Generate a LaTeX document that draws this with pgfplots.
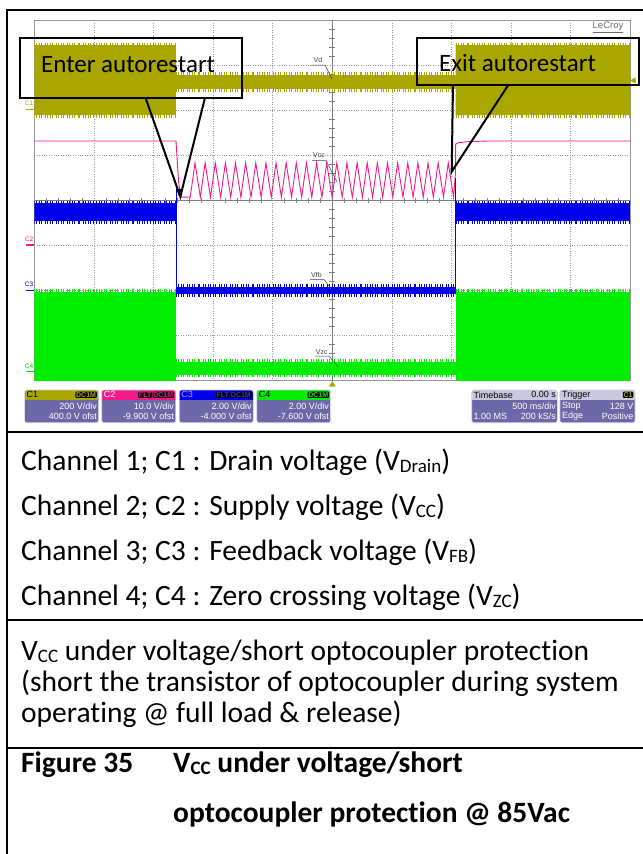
\documentclass[border=0pt]{standalone}
\usepackage{pgfplots}
\pgfplotsset{compat=1.18}
\usepackage{fontspec}
\setmainfont{Carlito}[Ligatures=NoCommon]
\newfontfamily\arial{Liberation Sans}
\definecolor{cone}{RGB}{170,166,0}
\definecolor{ctwo}{RGB}{245,25,135}
\definecolor{cthree}{RGB}{0,0,235}
\definecolor{cfour}{RGB}{0,238,0}
\definecolor{panel}{RGB}{108,104,168}
\definecolor{panelhead}{RGB}{200,200,222}
\definecolor{gridc}{RGB}{150,150,150}
\newcommand{\sub}[1]{\raisebox{-0.1em}{\fontsize{19bp}{19bp}\selectfont #1}}
\newcommand{\body}{\fontsize{29.5bp}{32bp}\selectfont}
\newcommand{\scf}{\arial\fontsize{9bp}{9bp}\selectfont}
\pgfplotsset{fringe/.style={line width=2.6bp, dash pattern=on 0.5bp off 1.3bp on 0.8bp off 2.4bp on 0.4bp off 1.7bp on 0.6bp off 3.1bp}}
\begin{document}
\begin{tikzpicture}
\useasboundingbox (0,0) rectangle (643bp,-854bp);
\fill[white] (0,0) rectangle (643bp,-854bp);
\begin{axis}[
  at={(34.4bp,-380.7bp)}, anchor=south west,
  scale only axis, width=595.9bp, height=360.7bp,
  xmin=0, xmax=10, ymin=0, ymax=8,
  xtick={0,...,10}, ytick={0,...,8},
  xticklabels={}, yticklabels={},
  major tick length=0pt,
  grid=major, grid style={gridc, dash pattern=on 0.6bp off 1.8bp, line width=0.6bp},
  axis line style={gridc, line width=0.7bp},
  clip=true,
]
\draw[gray, line width=0.6bp] (axis cs:5,0) -- (axis cs:5,8);
\draw[gray, line width=0.6bp] (axis cs:0,4) -- (axis cs:10,4);
\pgfplotsinvokeforeach{0.2,0.4,0.6,0.8,1.2,1.4,1.6,1.8,2.2,2.4,2.6,2.8,3.2,3.4,3.6,3.8,4.2,4.4,4.6,4.8,5.2,5.4,5.6,5.8,6.2,6.4,6.6,6.8,7.2,7.4,7.6,7.8}{
  \draw[gray, line width=0.6bp] (axis cs:4.95,#1) -- (axis cs:5.05,#1);
}
\pgfplotsinvokeforeach{0.2,0.4,0.6,0.8,1.2,1.4,1.6,1.8,2.2,2.4,2.6,2.8,3.2,3.4,3.6,3.8,4.2,4.4,4.6,4.8,5.2,5.4,5.6,5.8,6.2,6.4,6.6,6.8,7.2,7.4,7.6,7.8,8.2,8.4,8.6,8.8,9.2,9.4,9.6,9.8}{
  \draw[gray, line width=0.6bp] (axis cs:#1,3.94) -- (axis cs:#1,4.06);
}
% C1 drain voltage band
\addplot[draw=none, fill=cone] coordinates {(0,5.89) (0,7.445) (2.376,7.445) (2.376,6.78) (7.07,6.78) (7.07,7.445) (10,7.445) (10,5.89) (7.07,5.89) (7.07,6.47) (2.376,6.47) (2.376,5.89)};
\addplot[cone, fringe] coordinates {(0,7.472) (2.376,7.472)};
\addplot[cone, fringe] coordinates {(0,5.863) (2.376,5.863)};
\addplot[cone, fringe] coordinates {(2.376,6.807) (7.07,6.807)};
\addplot[cone, fringe] coordinates {(2.376,6.443) (7.07,6.443)};
\addplot[cone, fringe] coordinates {(7.07,7.472) (10,7.472)};
\addplot[cone, fringe] coordinates {(7.07,5.863) (10,5.863)};
% C2 Vcc
\addplot[ctwo, line width=0.9bp] coordinates {(0,5.316) (2.376,5.316) (2.42,4.4) (2.46,4.07) (2.615,4.07)
 (2.695,4.83) (2.785,4.07) (2.865,4.83) (2.955,4.07) (3.035,4.83) (3.125,4.07) (3.205,4.83)
 (3.295,4.07) (3.375,4.83) (3.465,4.07) (3.545,4.83) (3.635,4.07) (3.715,4.83) (3.805,4.07)
 (3.885,4.83) (3.975,4.07) (4.055,4.83) (4.145,4.07) (4.225,4.83) (4.315,4.07) (4.395,4.83)
 (4.485,4.07) (4.565,4.83) (4.655,4.07) (4.735,4.83) (4.825,4.07) (4.905,4.83) (4.995,4.07)
 (5.075,4.83) (5.165,4.07) (5.245,4.83) (5.335,4.07) (5.415,4.83) (5.505,4.07) (5.585,4.83)
 (5.675,4.07) (5.755,4.83) (5.845,4.07) (5.925,4.83) (6.015,4.07) (6.095,4.83) (6.185,4.07)
 (6.265,4.83) (6.355,4.07) (6.435,4.83) (6.525,4.07) (6.605,4.83) (6.695,4.07) (6.775,4.83)
 (6.865,4.07) (6.945,4.83) (7.035,4.07) (7.066,4.6) (7.07,5.25) (7.12,5.28) (7.25,5.30) (7.6,5.316) (10,5.316)};
% C3 feedback
\addplot[draw=none, fill=cthree] coordinates {(0,3.54) (0,3.94) (2.376,3.94) (2.376,3.54)};
\addplot[draw=none, fill=cthree] coordinates {(2.376,1.92) (2.376,2.08) (7.07,2.08) (7.07,1.92)};
\addplot[draw=none, fill=cthree] coordinates {(7.07,3.54) (7.07,3.94) (10,3.94) (10,3.54)};
\addplot[cthree, fringe] coordinates {(0,3.967) (2.376,3.967)};
\addplot[cthree, fringe] coordinates {(0,3.513) (2.376,3.513)};
\addplot[cthree, fringe] coordinates {(7.07,3.967) (10,3.967)};
\addplot[cthree, fringe] coordinates {(7.07,3.513) (10,3.513)};
\addplot[cthree, fringe] coordinates {(2.376,2.107) (7.07,2.107)};
\addplot[cthree, fringe] coordinates {(2.376,1.893) (7.07,1.893)};
\addplot[cthree, line width=0.7bp] coordinates {(2.376,4.27) (2.376,2.0)};
\addplot[cthree, line width=0.7bp] coordinates {(7.07,4.5) (7.07,2.0)};
% C4 zero crossing
\addplot[draw=none, fill=cfour] coordinates {(0,0) (0,1.974) (2.376,1.974) (2.376,0)};
\addplot[draw=none, fill=cfour] coordinates {(2.376,0.13) (2.376,0.42) (7.07,0.42) (7.07,0.13)};
\addplot[draw=none, fill=cfour] coordinates {(7.07,0) (7.07,1.974) (10,1.974) (10,0)};
\addplot[cfour, fringe] coordinates {(0,2.0) (2.376,2.0)};
\addplot[cfour, fringe] coordinates {(7.07,2.0) (10,2.0)};
\addplot[cfour, fringe] coordinates {(2.376,0.447) (7.07,0.447)};
\addplot[cfour, fringe] coordinates {(2.376,0.103) (7.07,0.103)};
\end{axis}
\begin{scope}[x=1bp,y=-1bp]
% frame
\draw[line width=2.2bp] (7,855) -- (7,10) -- (644,10);
\draw[line width=2.2bp] (7,432) -- (644,432);
\draw[line width=2.2bp] (7,620) -- (644,620);
\draw[line width=2.2bp] (7,748) -- (644,748);
% LeCroy
\node[text=gray!85!black, inner sep=0] at (608,27.3) {\arial\fontsize{9.5bp}{10bp}\selectfont\underline{LeCroy}};
% trace labels
\node[inner sep=0, text=black!75] at (318,60) {\arial\fontsize{7bp}{7bp}\selectfont Vd};
\draw[black!75, line width=0.5bp] (311,65) -- (325,65) -- (332,79);
\node[inner sep=0, text=black!75] at (319,155) {\arial\fontsize{7bp}{7bp}\selectfont Vcc};
\draw[black!75, line width=0.5bp] (312,160.5) -- (326,160.5) -- (337,182);
\node[inner sep=0, text=black!75] at (316.5,275) {\arial\fontsize{7bp}{7bp}\selectfont Vfb};
\draw[black!75, line width=0.5bp] (310,279.5) -- (324,279.5) -- (332,290);
\node[inner sep=0, text=black!75] at (321.7,351.7) {\arial\fontsize{7bp}{7bp}\selectfont Vzc};
\draw[black!75, line width=0.5bp] (315,356) -- (329,356) -- (338,366.7);
% channel markers
\node[inner sep=0, text=cone] at (29,103) {\arial\fontsize{6.5bp}{6.5bp}\selectfont C1};
\draw[cone, line width=1.2bp] (25.5,109.3) -- (33.5,109.3);
\node[inner sep=0, text=ctwo] at (29,239) {\arial\fontsize{6.5bp}{6.5bp}\selectfont C2};
\draw[ctwo, line width=1.2bp] (25.5,245) -- (33.5,245);
\node[inner sep=0, text=cthree] at (29,284) {\arial\fontsize{6.5bp}{6.5bp}\selectfont C3};
\draw[cthree, line width=1.2bp] (25.5,290.7) -- (33.5,290.7);
\node[inner sep=0, text=cfour!80!black] at (29,366) {\arial\fontsize{6.5bp}{6.5bp}\selectfont C4};
\draw[cfour, line width=1.2bp] (25.5,371.7) -- (33.5,371.7);
% markers
\fill[cone] (332.3,381) -- (329,386.5) -- (335.6,386.5) -- cycle;
\fill[cone] (630,80.5) -- (635.5,77.5) -- (635.5,83.5) -- cycle;
\fill[black] (176,189) -- (182,189) -- (179,196) -- cycle;
% callouts
\draw[line width=2bp] (19.7,37.5) rectangle (242,97.7);
\draw[line width=2bp] (145.5,97.7) -- (180.3,196.7) -- (205,97.7);
\node[anchor=base west, inner sep=0] at (41,72.5) {\fontsize{25bp}{25bp}\selectfont Enter autorestart};
\draw[line width=2bp] (416.7,37.7) rectangle (639.3,85);
\draw[line width=2bp] (453,85) -- (451.7,171.7) -- (508.3,85);
\node[anchor=base west, inner sep=0] at (439,71.7) {\fontsize{25bp}{25bp}\selectfont Exit autorestart};
% status panels
\foreach \xa/\xb/\hc in {24.6/98.5/cone, 101.7/175.7/ctwo, 179.3/253.3/cthree, 256.7/330.7/cfour, 471.7/557.3/panelhead, 560/635/panelhead}{
  \begin{scope}
  \clip[rounded corners=2.5bp] (\xa,390) rectangle (\xb,422.7);
  \fill[panel] (\xa,390) rectangle (\xb,422.7);
  \fill[\hc] (\xa,390) rectangle (\xb,399.6);
  \end{scope}
  \draw[panelhead, line width=0.6bp, rounded corners=2.5bp] (\xa,390) rectangle (\xb,422.7);
}
\tikzset{tag/.style={fill=black, rounded corners=1bp, inner xsep=0.8bp, inner ysep=0.6bp, font=\arial\bfseries\fontsize{7bp}{7bp}\selectfont}}
% C1
\node[anchor=west, inner sep=0, text=black] at (26.5,394.8) {\scf C1};
\node[tag, text=cone, anchor=east] at (97,394.8) {DC1M};
\node[anchor=east, inner sep=0, text=white] at (97,406) {\scf 200 V/div};
\node[anchor=east, inner sep=0, text=white] at (97,416.3) {\scf 400.0 V ofst};
% C2
\node[anchor=west, inner sep=0, text=white] at (103.6,394.8) {\scf C2};
\node[tag, text=ctwo, anchor=east] at (174.2,394.8) {DC1M};
\node[tag, text=ctwo, anchor=east] at (152.3,394.8) {FLT};
\node[anchor=east, inner sep=0, text=white] at (174.2,406) {\scf 10.0 V/div};
\node[anchor=east, inner sep=0, text=white] at (174.2,416.3) {\scf -9.900 V ofst};
% C3
\node[anchor=west, inner sep=0, text=blue!35] at (181.2,394.8) {\scf C3};
\node[tag, text=cthree!80!white, anchor=east] at (251.8,394.8) {DC1M};
\node[tag, text=cthree!80!white, anchor=east] at (229.9,394.8) {FLT};
\node[anchor=east, inner sep=0, text=white] at (251.8,406) {\scf 2.00 V/div};
\node[anchor=east, inner sep=0, text=white] at (251.8,416.3) {\scf -4.000 V ofst};
% C4
\node[anchor=west, inner sep=0, text=black] at (258.6,394.8) {\scf C4};
\node[tag, text=cfour, anchor=east] at (329.2,394.8) {DC1M};
\node[anchor=east, inner sep=0, text=white] at (329.2,406) {\scf 2.00 V/div};
\node[anchor=east, inner sep=0, text=white] at (329.2,416.3) {\scf -7.600 V ofst};
% Timebase
\node[anchor=west, inner sep=0, text=black] at (473.5,394.8) {\scf Timebase};
\node[anchor=east, inner sep=0, text=black] at (556,394.8) {\scf 0.00 s};
\node[anchor=east, inner sep=0, text=white] at (556,406) {\scf 500 ms/div};
\node[anchor=west, inner sep=0, text=white] at (473.5,416.3) {\scf 1.00 MS};
\node[anchor=east, inner sep=0, text=white] at (556,416.3) {\scf 200 kS/s};
% Trigger
\node[anchor=west, inner sep=0, text=black] at (562,394.8) {\scf Trigger};
\node[tag, text=cone, anchor=east] at (633.5,394.8) {C1};
\node[anchor=west, inner sep=0, text=white] at (562,406) {\scf Stop};
\node[anchor=east, inner sep=0, text=white] at (633.5,406) {\scf 128 V};
\node[anchor=west, inner sep=0, text=white] at (562,416.3) {\scf Edge};
\node[anchor=east, inner sep=0, text=white] at (633.5,416.3) {\scf Positive};
% text rows
\node[anchor=base west, inner sep=0] at (21,470) {\body Channel 1; C1 : Drain voltage (V\sub{Drain})};
\node[anchor=base west, inner sep=0] at (21,515) {\body Channel 2; C2 : Supply voltage (V\sub{CC})};
\node[anchor=base west, inner sep=0] at (21,560) {\body Channel 3; C3 : Feedback voltage (V\sub{FB})};
\node[anchor=base west, inner sep=0] at (21,605) {\body Channel 4; C4 : Zero crossing voltage (V\sub{ZC})};
\node[anchor=base west, inner sep=0] at (21,660) {\body V\sub{CC} under voltage/short optocoupler protection};
\node[anchor=base west, inner sep=0] at (21,691) {\body (short the transistor of optocoupler during system};
\node[anchor=base west, inner sep=0] at (21,722) {\body operating @ full load \& release)};
\node[anchor=base west, inner sep=0] at (21,772) {\body\bfseries Figure 35};
\node[anchor=base west, inner sep=0] at (173,772) {\body\bfseries V\sub{CC} under voltage/short};
\node[anchor=base west, inner sep=0] at (173,822) {\body\bfseries optocoupler protection @ 85Vac};
\end{scope}
\end{tikzpicture}
\end{document}
